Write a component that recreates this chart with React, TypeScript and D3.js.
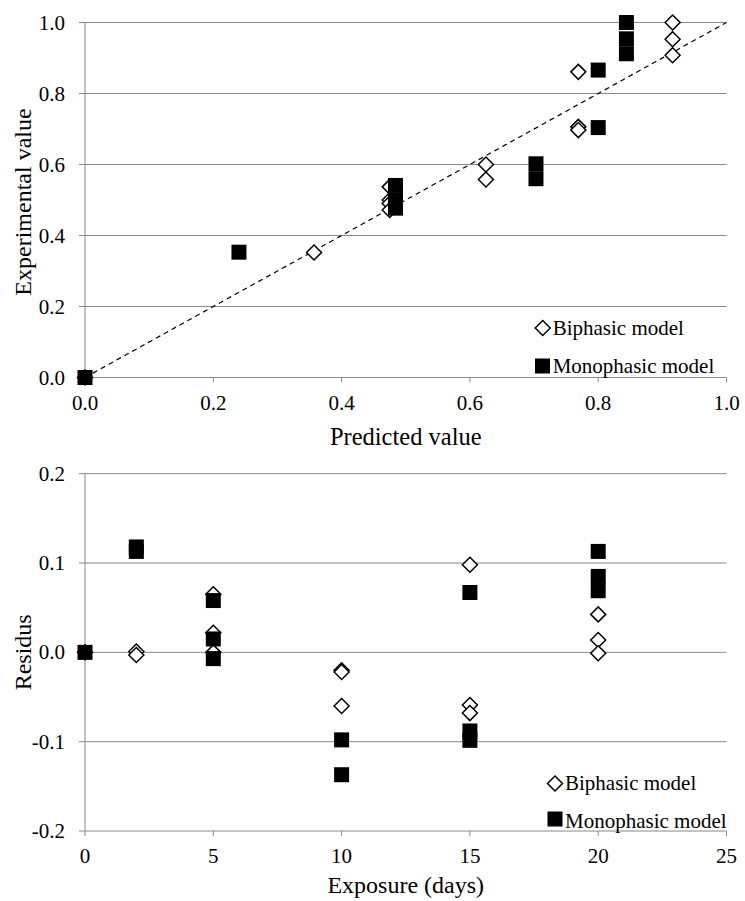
import React from "react";
import * as d3 from "d3";

// ---------- Data ----------
// Top chart: predicted vs experimental
const topBiphasicPred = [0, 0.357, 0.475, 0.475, 0.475, 0.475, 0.625, 0.625, 0.769, 0.769, 0.769, 0.916, 0.916, 0.916];
const topBiphasicExp = [0, 0.352, 0.537, 0.5, 0.49, 0.472, 0.6, 0.558, 0.861, 0.706, 0.697, 1.0, 0.953, 0.908];
const topMonoPred = [0, 0.24, 0.484, 0.484, 0.484, 0.703, 0.703, 0.8, 0.8, 0.844, 0.844, 0.844];
const topMonoExp = [0, 0.353, 0.541, 0.499, 0.477, 0.602, 0.56, 0.866, 0.704, 1.0, 0.954, 0.912];
const topTicks = [0, 0.2, 0.4, 0.6, 0.8, 1.0];

// Bottom chart: residuals vs exposure
const botBiphasicDays = [0, 2, 2, 5, 5, 5, 10, 10, 10, 15, 15, 15, 20, 20, 20];
const botBiphasicRes = [0, 0.001, -0.003, 0.065, 0.022, 0.0, -0.02, -0.022, -0.06, 0.098, -0.059, -0.068, 0.0425, 0.0138, -0.001];
const botMonoDays = [0, 2, 2, 5, 5, 5, 10, 10, 15, 15, 15, 20, 20, 20];
const botMonoRes = [0, 0.118, 0.113, 0.058, 0.015, -0.007, -0.098, -0.137, 0.067, -0.088, -0.0985, 0.113, 0.085, 0.069];
const botXTicks = [0, 5, 10, 15, 20, 25];
const botYTicks = [-0.2, -0.1, 0, 0.1, 0.2];

const legendLabels = ["Biphasic model", "Monophasic model"];

const GRID = "#888888";
const FONT = '"Liberation Serif", "DejaVu Serif", serif';

function Diamond({ cx, cy }: { cx: number; cy: number }) {
  const r = 7.5;
  return (
    <path
      d={`M${cx},${cy - r}L${cx + r},${cy}L${cx},${cy + r}L${cx - r},${cy}Z`}
      fill="white"
      stroke="black"
      strokeWidth={1.5}
    />
  );
}

function Square({ cx, cy }: { cx: number; cy: number }) {
  const s = 15;
  return <rect x={cx - s / 2} y={cy - s / 2} width={s} height={s} fill="black" />;
}

function T(props: any) {
  return <text {...props} style={{ fontFamily: FONT }} />;
}

export default function App() {
  // Top scales
  const xT = d3.scaleLinear().domain([0, 1]).range([85, 726.5]);
  const yT = d3.scaleLinear().domain([0, 1]).range([377.5, 22.5]);
  // Bottom scales
  const xB = d3.scaleLinear().domain([0, 25]).range([85, 726.5]);
  const yB = d3.scaleLinear().domain([-0.2, 0.2]).range([831, 473.7]);

  const fmt1 = (v: number) => d3.format(".1f")(v).replace("\u2212", "-");

  return (
    <svg
      width={745}
      height={901}
      style={{ position: "absolute", left: 0, top: 0, background: "white", fontFamily: FONT }}
    >
      <rect width={745} height={901} fill="white" />
      {/* ---------- TOP CHART ---------- */}
      <g>
        {topTicks.map((t) => (
          <line key={"tg" + t} x1={79} x2={xT(1)} y1={yT(t)} y2={yT(t)} stroke={GRID} strokeWidth={1} />
        ))}
        <line x1={xT(0)} x2={xT(0)} y1={yT(1)} y2={yT(0)} stroke={GRID} strokeWidth={1} />
        {topTicks.map((t) => (
          <line key={"tx" + t} x1={xT(t)} x2={xT(t)} y1={yT(0)} y2={yT(0) + 5} stroke={GRID} strokeWidth={1} />
        ))}
        {topTicks.map((t) => (
          <T key={"tyl" + t} x={65} y={yT(t) + 7} textAnchor="end" fontSize={21}>
            {fmt1(t)}
          </T>
        ))}
        {topTicks.map((t) => (
          <T key={"txl" + t} x={xT(t)} y={409.5} textAnchor="middle" fontSize={21}>
            {fmt1(t)}
          </T>
        ))}
        <T x={(xT(0) + xT(1)) / 2} y={445} textAnchor="middle" fontSize={24.5}>
          Predicted value
        </T>
        <T
          transform={`translate(31,${(yT(0) + yT(1)) / 2 + 2}) rotate(-90)`}
          textAnchor="middle"
          fontSize={24}
        >
          Experimental value
        </T>
        {/* 1:1 line */}
        <line x1={xT(0)} y1={yT(0)} x2={xT(1)} y2={yT(1)} stroke="black" strokeWidth={1.2} strokeDasharray="5,4" />
        {topBiphasicPred.map((p, i) => (
          <Diamond key={"tb" + i} cx={xT(p)} cy={yT(topBiphasicExp[i])} />
        ))}
        {topMonoPred.map((p, i) => (
          <Square key={"tm" + i} cx={xT(p)} cy={yT(topMonoExp[i])} />
        ))}
        {/* legend */}
        <Diamond cx={542.7} cy={328} />
        <T x={552.7} y={335} fontSize={21}>{legendLabels[0]}</T>
        <Square cx={542.5} cy={366} />
        <T x={552.7} y={372.5} fontSize={21}>{legendLabels[1]}</T>
      </g>

      {/* ---------- BOTTOM CHART ---------- */}
      <g>
        {botYTicks.map((t) => (
          <line key={"bg" + t} x1={79} x2={xB(25)} y1={yB(t)} y2={yB(t)} stroke={GRID} strokeWidth={1} />
        ))}
        <line x1={xB(0)} x2={xB(0)} y1={yB(0.2)} y2={yB(-0.2)} stroke={GRID} strokeWidth={1} />
        {botXTicks.map((t) => (
          <line key={"bx" + t} x1={xB(t)} x2={xB(t)} y1={yB(-0.2)} y2={yB(-0.2) + 5} stroke={GRID} strokeWidth={1} />
        ))}
        {botYTicks.map((t) => (
          <T key={"byl" + t} x={65} y={yB(t) + 7} textAnchor="end" fontSize={21}>
            {fmt1(t)}
          </T>
        ))}
        {botXTicks.map((t) => (
          <T key={"bxl" + t} x={xB(t)} y={863} textAnchor="middle" fontSize={21}>
            {t}
          </T>
        ))}
        <T x={(xB(0) + xB(25)) / 2} y={893} textAnchor="middle" fontSize={24}>
          Exposure (days)
        </T>
        <T
          transform={`translate(31,${(yB(-0.2) + yB(0.2)) / 2}) rotate(-90)`}
          textAnchor="middle"
          fontSize={24}
        >
          Residus
        </T>
        {botBiphasicDays.map((d, i) => (
          <Diamond key={"bb" + i} cx={xB(d)} cy={yB(botBiphasicRes[i])} />
        ))}
        {botMonoDays.map((d, i) => (
          <Square key={"bm" + i} cx={xB(d)} cy={yB(botMonoRes[i])} />
        ))}
        {/* legend */}
        <Diamond cx={555} cy={783.5} />
        <T x={565} y={790} fontSize={21}>{legendLabels[0]}</T>
        <Square cx={555} cy={819} />
        <T x={565} y={827.5} fontSize={21}>{legendLabels[1]}</T>
      </g>
    </svg>
  );
}
